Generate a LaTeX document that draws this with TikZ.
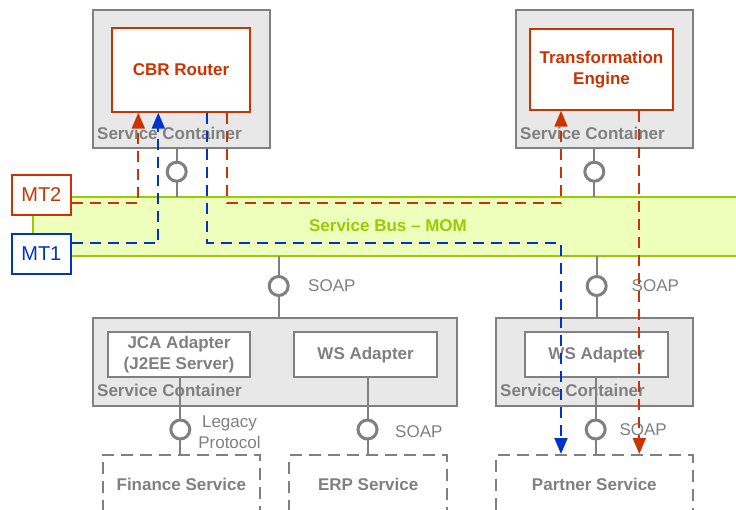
\documentclass[tikz,border=0pt]{standalone}
\usepackage{fontspec}
\setmainfont{Liberation Sans}
\usetikzlibrary{arrows.meta,calc}
\definecolor{cgray}{RGB}{128,128,128}
\definecolor{cfill}{RGB}{232,232,232}
\definecolor{cred}{RGB}{204,51,0}
\definecolor{cblue}{RGB}{0,51,204}
\definecolor{cgreen}{RGB}{153,204,0}
\definecolor{cbus}{RGB}{238,255,187}
\tikzset{
  x=1pt, y=-1pt,
  every node/.style={font=\fontsize{17}{21}\selectfont},
  container/.style={draw=cgray, fill=cfill, line width=2pt, anchor=north west, inner sep=0pt},
  redbox/.style={draw=cred, fill=white, line width=2pt, anchor=north west, inner sep=0pt, align=center, text=cred, font=\fontsize{17}{21}\selectfont\bfseries},
  graybox/.style={draw=cgray, fill=white, line width=2pt, anchor=north west, inner sep=0pt, align=center, text=cgray, font=\fontsize{17}{21}\selectfont\bfseries},
  servicebox/.style={draw=cgray, fill=white, line width=2pt, dash pattern=on 12pt off 7pt, anchor=north west, inner sep=0pt, text=cgray, font=\fontsize{17}{21}\selectfont\bfseries},
  clabel/.style={anchor=west, inner sep=0pt, text=cgray, font=\fontsize{17}{21}\selectfont\bfseries},
  lolli/.style={circle, draw=cgray, fill=white, line width=3pt, minimum size=19pt, inner sep=0pt},
  stem/.style={draw=cgray, line width=2pt},
  plabel/.style={anchor=west, inner sep=0pt, text=cgray, align=center},
  mtbox/.style={line width=2pt, fill=white, anchor=north west, inner sep=0pt, font=\fontsize{20}{24}\selectfont},
  reddash/.style={draw=cred, line width=2pt, dash pattern=on 11pt off 7pt},
  bluedash/.style={draw=cblue, line width=2pt, dash pattern=on 11pt off 7pt},
  tip/.style={-{Triangle[width=13pt,length=16pt]}},
}
\begin{document}
\begin{tikzpicture}
\useasboundingbox (0,0) rectangle (736,510);

% bus
\node[fill=cbus, minimum width=703pt, minimum height=59pt, inner sep=0pt, anchor=north west] (bus) at (33,197) {};
\node[text=cgreen, font=\fontsize{17}{21}\selectfont\bfseries] (buslabel) at (388,225) {Service Bus – MOM};
\draw[cgreen, line width=2pt] (bus.north east) -- (bus.north west) -- (bus.south west) -- (bus.south east);

% top containers
\node[container, minimum width=177pt, minimum height=138pt] (c1) at (92,9.5) {};
\node[redbox, minimum width=138pt, minimum height=84pt] (cbr) at (111,26.7) {CBR Router};
\node[clabel] (c1l) at ($(c1.south west)+(5,-16)$) {Service Container};

\node[container, minimum width=177pt, minimum height=138pt] (c2) at (514.5,9.5) {};
\node[redbox, minimum width=143pt, minimum height=81pt] (te) at (529,27.7) {Transformation\\Engine};
\node[clabel] (c2l) at ($(c2.south west)+(5.5,-16)$) {Service Container};

% bottom containers
\node[container, minimum width=364pt, minimum height=88.6pt] (c3) at (92,316.7) {};
\node[graybox, minimum width=142.6pt, minimum height=44.7pt] (jca) at (106.7,331.3) {JCA Adapter\\(J2EE Server)};
\node[graybox, minimum width=142.7pt, minimum height=44.7pt] (ws1) at (293.3,331.3) {WS Adapter};
\node[clabel] (c3l) at ($(c3.south west)+(5,-17)$) {Service Container};

\node[container, minimum width=196.7pt, minimum height=88.6pt] (c4) at (495,316.7) {};
\node[graybox, minimum width=142.7pt, minimum height=44.7pt] (ws2) at (524.3,331.3) {WS Adapter};
\node[clabel] (c4l) at ($(c4.south west)+(5,-17)$) {Service Container};

% services
\node[servicebox, minimum width=157.3pt, minimum height=58pt] (fin) at (101.7,454) {Finance Service};
\node[servicebox, minimum width=157.7pt, minimum height=58pt] (erp) at (288.3,454) {ERP Service};
\node[servicebox, minimum width=196.7pt, minimum height=58pt] (partner) at (495,454) {Partner Service};

% MT boxes
\node[mtbox, draw=cred, text=cred, minimum width=59.3pt, minimum height=40pt] (mt2) at (10.7,174) {MT2};
\node[mtbox, draw=cblue, text=cblue, minimum width=59.3pt, minimum height=39.4pt] (mt1) at (10.7,233.3) {MT1};

% lollipops positions
\coordinate (p1) at (176.7,171.7);
\coordinate (p2) at (594.3,171.7);
\coordinate (p3) at (278.7,286);
\coordinate (p4) at (596.7,286);
\coordinate (p5) at (180.3,429.5);
\coordinate (p6) at (367.5,429.5);
\coordinate (p7) at (595.7,429.5);

\draw[stem] (c1.south -| p1) -- (bus.north -| p1);
\draw[stem] (c2.south -| p2) -- (bus.north -| p2);
\draw[stem] (bus.south -| p3) -- (c3.north -| p3);
\draw[stem] (bus.south -| p4) -- (c4.north -| p4);
\draw[stem] (jca.south -| p5) -- (fin.north -| p5);
\draw[stem] (ws1.south -| p6) -- (erp.north -| p6);
\draw[stem] (ws2.south -| p7) -- (partner.north -| p7);

\node[lolli] (l1) at (p1) {};
\node[lolli] (l2) at (p2) {};
\node[lolli] (l3) at (p3) {};
\node[lolli] (l4) at (p4) {};
\node[lolli] (l5) at (p5) {};
\node[lolli] (l6) at (p6) {};
\node[lolli] (l7) at (p7) {};

\node[plabel] (s3) at (308,286) {SOAP};
\node[plabel] (s4) at (631.5,286) {SOAP};
\node[plabel, anchor=center] (s5) at (229.5,432) {Legacy\\Protocol};
\node[plabel] (s6) at (395,431.5) {SOAP};
\node[plabel] (s7) at (619.3,430) {SOAP};

% message flows
\coordinate (r1) at (138.3,203.3);
\coordinate (r2) at (227.3,203.3);
\coordinate (r3) at (561,203.3);
\coordinate (r4) at (639.3,203.3);
\coordinate (b1) at (158.3,243.3);
\coordinate (b2) at (207.3,243.3);
\coordinate (b3) at (561,243.3);

\draw[reddash, tip] (mt2.east |- r1) -- (r1) -- (cbr.south -| r1);
\draw[reddash, tip] (cbr.south -| r2) -- (r2) -- (r3) -- (te.south -| r3);
\draw[reddash, tip] (te.south -| r4) -- (partner.north -| r4);
\draw[bluedash, tip] (mt1.east |- b1) -- (b1) -- (cbr.south -| b1);
\draw[bluedash, tip] (cbr.south -| b2) -- (b2) -- (b3) -- (partner.north -| b3);
\end{tikzpicture}
\end{document}
